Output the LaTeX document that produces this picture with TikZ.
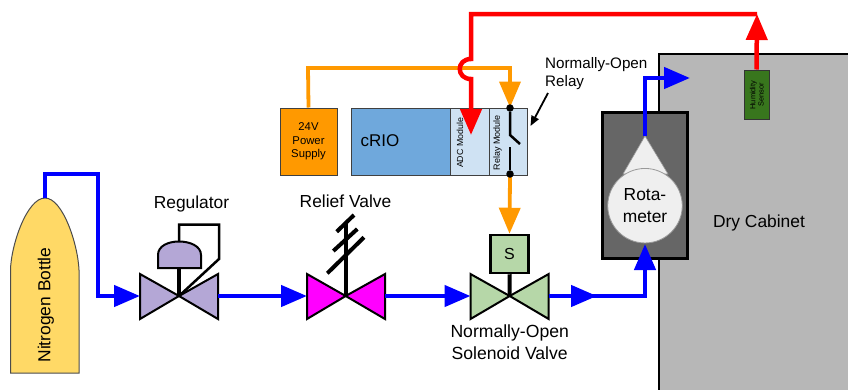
\documentclass[tikz,border=0pt]{standalone}
\usepackage{fontspec}
\setmainfont{Liberation Sans}
\usetikzlibrary{arrows.meta,calc}
\definecolor{bluepipe}{HTML}{0000FF}
\definecolor{redline}{HTML}{FF0000}
\definecolor{orangeline}{HTML}{FF9900}
\definecolor{bottlefill}{HTML}{FFD966}
\definecolor{purplefill}{HTML}{B4A7D6}
\definecolor{greenfill}{HTML}{B6D7A8}
\definecolor{magentafill}{HTML}{FF00FF}
\definecolor{criofill}{HTML}{6FA8DC}
\definecolor{modfill}{HTML}{CFE2F3}
\definecolor{sensorfill}{HTML}{38761D}
\definecolor{cabfill}{HTML}{B7B7B7}
\definecolor{rotabox}{HTML}{666666}
\definecolor{rotafill}{HTML}{EFEFEF}
\newcommand{\fsz}[1]{\fontsize{#1}{#1}\selectfont}
\tikzset{
  big tip/.style={-{Triangle[length=26pt,width=21pt]}},
  pipe/.style={draw=bluepipe,line width=4.5pt,line join=miter},
  sig/.style={draw=orangeline,line width=3.8pt},
  redsig/.style={draw=redline,line width=4.5pt},
  valvepart/.style={draw=black,line width=2pt,line join=miter},
  stem/.style={draw=black,line width=4pt},
  module/.style={draw=black!75,line width=1pt,fill=modfill,inner sep=0pt,minimum height=67pt},
  lab/.style={inner sep=0pt,align=center,font=\fsz{17.4}},
  junction/.style={circle,fill=black,inner sep=0pt,minimum size=7.5pt},
}
\begin{document}
\begin{tikzpicture}[x=1pt,y=-1pt]
\useasboundingbox (0,0) rectangle (848,389);
% cabinet
\draw[draw=black,line width=2pt,fill=cabfill] (659,400) -- (659,53.5) -- (860,53.5) -- (860,400) -- cycle;
\node[lab] (cabinet) at (759,223) {Dry Cabinet};
% named anchors
\coordinate (botTop) at (45,198);
\coordinate (c1) at (45,174);
\coordinate (c2) at (98,174);
\coordinate (c3) at (98,296);
\coordinate (regIn) at (140,296);
\coordinate (regC) at (179,296);
\coordinate (regOut) at (218,296);
\coordinate (relIn) at (307,296);
\coordinate (relC) at (345.7,296);
\coordinate (relOut) at (385,296);
\coordinate (solIn) at (470.5,296);
\coordinate (solC) at (509.7,296);
\coordinate (solOut) at (548.7,296);
\coordinate (midTip) at (597,296);
\coordinate (rotaCorner) at (645,296);
\coordinate (rotaIn) at (645,244);
\coordinate (rotaApex) at (645,136);
\coordinate (rotaTurn) at (645,78);
\coordinate (cabIn) at (690,78);
\coordinate (topR) at (757,14);
\coordinate (topL) at (471,14);
\coordinate (hop1) at (471,59);
\coordinate (hop2) at (471,79);
\coordinate (adcTip) at (471,135);
\coordinate (o1) at (308,68);
\coordinate (o2) at (510,68);
% bottle
\draw[draw=black!70,line width=1pt,fill=bottlefill] (10.5,373) -- (10.5,270) .. controls (11,245) and (27,198) .. (botTop) .. controls (63,198) and (78,245) .. (79,270) -- (79,373) -- cycle;
\node[lab,rotate=90] (bottle) at (46,305) {Nitrogen Bottle};
% regulator
\draw[valvepart,fill=purplefill] (regC) -- (140,274) -- (regIn) -- (140,319) -- cycle;
\draw[valvepart,fill=purplefill] (regC) -- (218,274) -- (regOut) -- (218,319) -- cycle;
\draw[stem] (regC) -- (179,268);
\draw[draw=black,line width=2pt,fill=purplefill] (158,268) -- (158,255) .. controls (158,246) and (168,241.5) .. (179,241.5) .. controls (190,241.5) and (201,246) .. (201,255) -- (201,268) -- cycle;
\draw[draw=black,line width=2.5pt,line join=miter] (179,241.5) -- (179,224.5) -- (219,224.5) -- (219,259) -- (regC);
\node[lab] (reglab) at (191.5,204) {Regulator};
% relief valve
\draw[valvepart,fill=magentafill] (relC) -- (307,274) -- (relIn) -- (307,319) -- cycle;
\draw[valvepart,fill=magentafill] (relC) -- (385,274) -- (relOut) -- (385,319) -- cycle;
\draw[stem] (relC) -- (345.7,224);
\draw[stem] (336.7,231.7) -- (354,215);
\draw[stem] (333.3,251) -- (357.3,229);
\draw[stem] (327.3,273.3) -- (364,237.3);
\node[lab] (rellab) at (345.5,201) {Relief Valve};
% solenoid valve
\draw[valvepart,fill=greenfill] (solC) -- (470.5,274) -- (solIn) -- (470.5,319) -- cycle;
\draw[valvepart,fill=greenfill] (solC) -- (548.7,274) -- (solOut) -- (548.7,319) -- cycle;
\node[draw=black,line width=2.5pt,fill=greenfill,minimum width=38pt,minimum height=38pt,inner sep=0pt,font=\fsz{16}] (sbox) at (509.5,254) {S};
\draw[stem] (solC) -- (sbox.south);
\node[lab,font=\fsz{17.6}] (sollab) at (509.7,342) {Normally-Open\\[4pt]Solenoid Valve};
% rotameter
\node[draw=black,line width=3pt,fill=rotabox,minimum width=85pt,minimum height=146pt,inner sep=0pt] (rotabody) at (645,185.5) {};
\draw[draw=black!40,line width=.6pt,fill=rotafill] (rotaApex) -- (623,174) -- (668,174) -- cycle;
\node[circle,draw=black!40,line width=.8pt,fill=rotafill,minimum size=74.5pt,inner sep=0pt,align=center,font=\fsz{17.4}] (rota) at (645,205.7) {Rota-\\[4pt]meter};
% sensor
\node[draw=black!80,line width=1pt,fill=sensorfill,minimum width=25pt,minimum height=49pt,inner sep=0pt] (sensor) at (756.5,94.5) {};
\node[lab,rotate=90,font=\fsz{7.4}] (sensorlab) at (756.8,95) {Humidity\\[1pt]Sensor};
% controller
\node[draw=black!75,line width=1pt,fill=orangeline,minimum width=57pt,minimum height=67pt,inner sep=0pt] (supply) at (308.5,141.5) {};
\node[lab,font=\fsz{11.3},align=center] (supplylab) at (308.5,141.5) {24V\\[2.2pt]Power\\[2.2pt]Supply};
\node[draw=black!75,line width=1pt,fill=criofill,minimum width=99pt,minimum height=67pt,inner sep=0pt] (crio) at (401,141.5) {};
\node[lab,font=\fsz{17}] (criolab) at (380,141) {cRIO};
\node[module,minimum width=39pt] (adc) at (469.5,141.5) {};
\node[module,minimum width=38.5pt] (relay) at (508.3,141.5) {};
\node[lab,rotate=90,font=\fsz{8.8}] (adclab) at (460,143) {ADC Module};
\node[lab,rotate=90,font=\fsz{9}] (relaylab) at (497.5,142.5) {Relay Module};
% blue pipes
\draw[pipe] (botTop) -- (c1) -- (c2) -- (c3) -- (112,296);
\draw[pipe,big tip] (112,296) -- (regIn);
\draw[pipe,big tip] (regOut) -- (relIn);
\draw[pipe,big tip] (relOut) -- (solIn);
\draw[pipe] (solOut) -- (rotaCorner) -- (645,270);
\draw[pipe,big tip] (645,270) -- (rotaIn);
\draw[pipe,big tip] (solOut) -- (midTip);
\draw[pipe,big tip] (rotaApex) -- (rotaTurn) -- (cabIn);
% orange signals
\draw[sig] (supply.north) -- (o1) -- (o2) -- (510,85);
\draw[sig,big tip] (510,80) -- (relay.north -| o2);
\draw[sig,big tip] (relay.south -| o2) -- (sbox.north);
% red signal
\draw[redsig,big tip] (sensor.north) -- (topR);
\draw[redsig] (topR) -- (topL) -- (hop1) .. controls (456,59) and (456,79) .. (hop2) -- (471,112);
\draw[redsig,big tip] (hop2) -- (adcTip);
% relay switch
\node[junction] (swTop) at (510,108) {};
\node[junction] (swBot) at (510,174) {};
\draw[draw=black,line width=2.5pt] (swTop) -- (510,135) -- (520,144);
\draw[draw=black,line width=2.5pt] (510,147) -- (swBot);
% relay label
\node[inner sep=0pt,align=left,anchor=west,font=\fsz{15.2}] (relaylabel) at (545,73.5) {Normally-Open\\[3pt]Relay};
\coordinate (relayArrowStart) at (548,93);
\draw[draw=black,line width=1.8pt,-{Triangle[length=10pt,width=8pt]}] (relayArrowStart) -- (530.5,126);
\end{tikzpicture}
\end{document}
